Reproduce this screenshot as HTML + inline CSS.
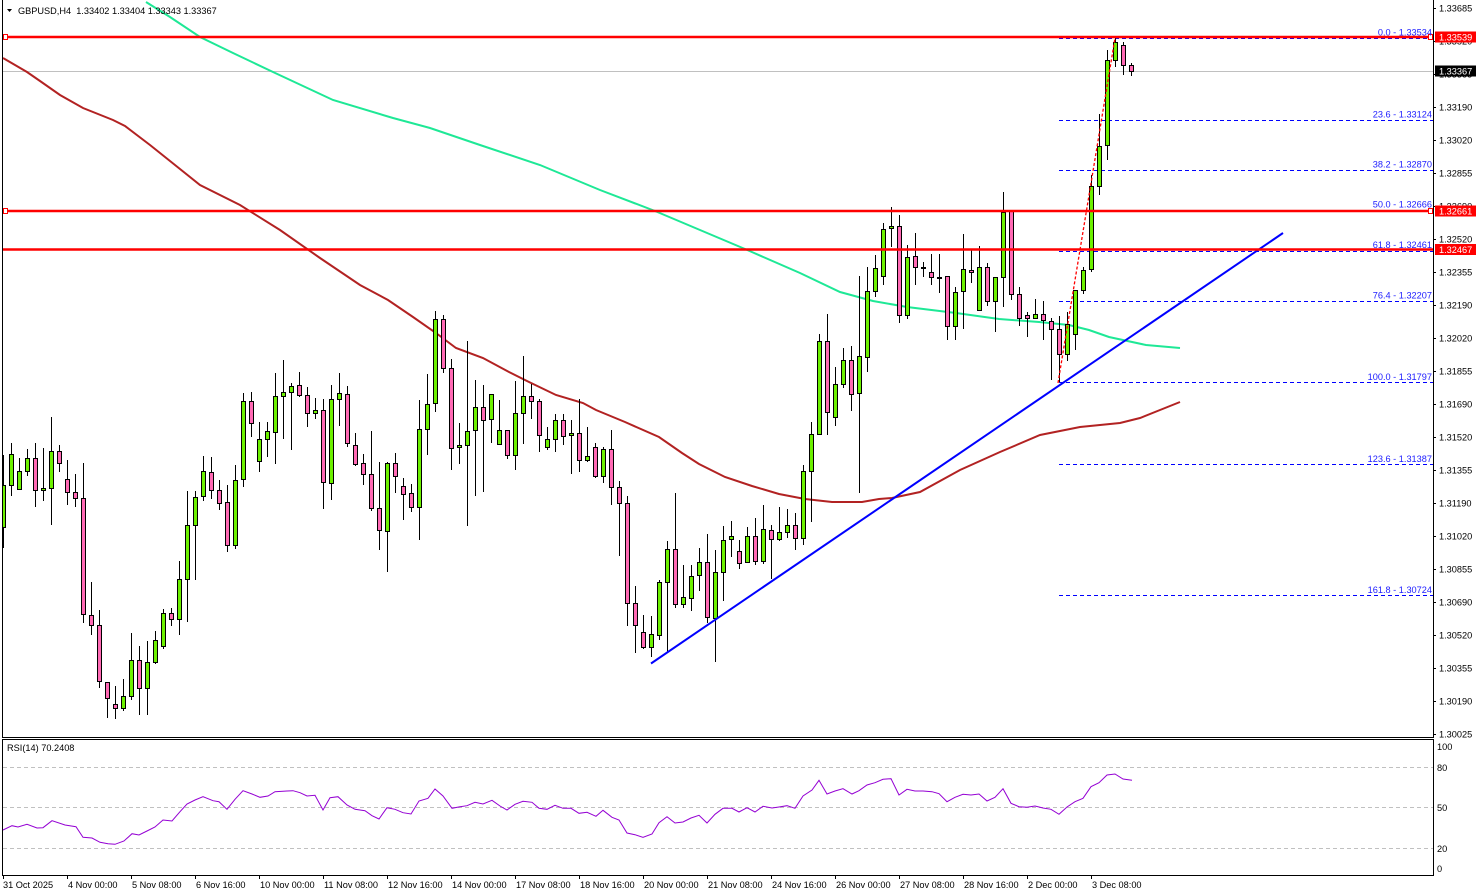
<!DOCTYPE html>
<html><head><meta charset="utf-8"><style>
html,body{margin:0;padding:0;background:#fff;}
svg{display:block;}
text{font-family:"Liberation Sans",Arial,sans-serif;font-size:9.2px;fill:#000;}
</style></head><body>
<svg width="1479" height="896" viewBox="0 0 1479 896" xmlns="http://www.w3.org/2000/svg">
<defs><clipPath id="mc"><rect x="2.5" y="0" width="1430.5" height="736.5"/></clipPath></defs>
<rect x="0" y="0" width="1479" height="896" fill="#fff"/>
<g clip-path="url(#mc)">
<!-- fib dashed lines -->
<g stroke="#0000ff" stroke-width="1" stroke-dasharray="4,3" fill="none">
<path d="M1059 38.5H1433M1059 120.5H1433M1059 170.5H1433M1059 210.5H1433M1059 251.5H1433M1059 301.5H1433M1059 382.5H1433M1059 464.5H1433M1059 595.5H1433"/>
</g>
<!-- current price line -->
<path d="M2 71.5H1433" stroke="#c0c0c0" stroke-width="1"/>
<!-- moving averages -->
<polyline fill="none" stroke="#b22222" stroke-width="2" points="3,58 27,72 40,81 60,95 83,108 113,120 125,126 150,145 175,165 200,185 240,205 280,230 320,258 360,285 388,300 413,317 436,333 456,348 483,358 509,372 529,382 556,395 583,403 596,410 625,422 659,437 682,453 699,464 725,477 752,486 779,494 805,499 832,502 862,502 879,499 892,498 920,492 960,470 1000,452 1040,435 1080,427 1100,425 1120,423 1140,418 1160,410 1180,402"/>
<polyline fill="none" stroke="#1ee896" stroke-width="2" points="146,2 170,17 200,37 233,53 273,72 333,100 393,118 430,128 480,145 540,165 600,190 655,211 700,230 745,249 800,273 840,292 873,301 907,307 956,313 999,319 1039,322 1069,325 1089,330 1109,337 1146,345 1180,348"/>
<!-- wicks -->
<path fill="none" stroke="#000" stroke-width="1" d="M3.5 455V548M11.5 443V496M19.5 458V489M27.5 449V476M35.5 443V507M43.5 448V501M51.5 417V525M59.5 445V472M67.5 460V505M75.5 474V507M83.5 463V623M91.5 582V635M99.5 610V688M107.5 682V718M115.5 686V719M123.5 679V711M131.5 633V700M139.5 646V715M147.5 641V715M155.5 631V664M163.5 609V649M171.5 608V626M179.5 561V635M187.5 491V622M195.5 491V580M203.5 456V501M211.5 457V499M219.5 480V510M227.5 485V552M235.5 465V549M243.5 393V487M251.5 392V437M259.5 422V472M267.5 422V457M275.5 373V464M283.5 360V439M291.5 383V450M299.5 372V397M307.5 387V427M315.5 398V419M323.5 399V509M331.5 385V500M339.5 373V426M347.5 386V447M355.5 433V466M363.5 454V485M371.5 431V511M379.5 462V550M387.5 462V572M395.5 453V493M403.5 478V520M411.5 484V512M419.5 400V540M427.5 374V455M435.5 311V412M443.5 315V373M451.5 359V470M459.5 423V464M467.5 341V526M475.5 380V496M483.5 385V492M491.5 394V443M499.5 400V444M507.5 430V459M515.5 381V470M523.5 356V444M531.5 384V419M539.5 399V452M547.5 427V450M555.5 414V452M563.5 414V445M571.5 420V474M579.5 399V472M587.5 427V462M595.5 443V478M603.5 447V483M611.5 430V505M619.5 481V556M627.5 496V626M635.5 586V653M643.5 615V649M651.5 616V657M659.5 580V640M667.5 541V652M675.5 493V608M683.5 565V608M691.5 565V611M699.5 548V591M707.5 534V623M715.5 550V662M723.5 526V601M731.5 521V557M739.5 540V569M747.5 527V563M755.5 518V565M763.5 505V564M771.5 525V579M779.5 507V541M787.5 509V538M795.5 513V550M803.5 465V545M811.5 422V522M819.5 334V435M827.5 314V435M835.5 367V426M843.5 348V388M851.5 346V411M859.5 276V493M867.5 267V372M875.5 255V297M883.5 223V285M891.5 207V247M899.5 215V323M907.5 245V319M915.5 233V285M923.5 262V277M931.5 254V285M939.5 254V293M947.5 276V340M955.5 287V340M963.5 234V329M971.5 250V283M979.5 246V310M987.5 263V306M995.5 277V332M1003.5 192V307M1011.5 211V300M1019.5 287V326M1027.5 312V337M1035.5 299V318M1043.5 301V340M1051.5 318V380M1059.5 316V382M1067.5 312V361M1075.5 290V350M1083.5 267V294M1091.5 175V272M1099.5 114V195M1107.5 50V160M1115.5 36V67M1123.5 42V75M1131.5 63V76"/>
<!-- green bodies -->
<path fill="#6cf000" stroke="#000" stroke-width="1" d="M1.5 485.5h4V527.5h-4zM9.5 454.5h4V485.5h-4zM17.5 471.5h4V489.5h-4zM25.5 458.5h4V471.5h-4zM41.5 488.5h4V490.5h-4zM49.5 451.5h4V488.5h-4zM121.5 696.5h4V708.5h-4zM129.5 660.5h4V696.5h-4zM145.5 662.5h4V688.5h-4zM153.5 640.5h4V662.5h-4zM161.5 613.5h4V646.5h-4zM177.5 579.5h4V619.5h-4zM185.5 525.5h4V579.5h-4zM193.5 497.5h4V525.5h-4zM201.5 471.5h4V496.5h-4zM233.5 480.5h4V545.5h-4zM241.5 401.5h4V479.5h-4zM257.5 439.5h4V461.5h-4zM265.5 431.5h4V439.5h-4zM273.5 396.5h4V432.5h-4zM281.5 392.5h4V396.5h-4zM289.5 386.5h4V392.5h-4zM313.5 410.5h4V413.5h-4zM329.5 399.5h4V483.5h-4zM337.5 393.5h4V399.5h-4zM385.5 463.5h4V531.5h-4zM417.5 429.5h4V507.5h-4zM425.5 404.5h4V429.5h-4zM433.5 319.5h4V403.5h-4zM457.5 445.5h4V447.5h-4zM465.5 431.5h4V445.5h-4zM473.5 407.5h4V430.5h-4zM489.5 394.5h4V419.5h-4zM497.5 430.5h4V444.5h-4zM513.5 413.5h4V455.5h-4zM521.5 396.5h4V413.5h-4zM545.5 439.5h4V447.5h-4zM553.5 420.5h4V439.5h-4zM569.5 433.5h4V435.5h-4zM585.5 456.5h4V460.5h-4zM601.5 449.5h4V476.5h-4zM649.5 634.5h4V647.5h-4zM657.5 582.5h4V635.5h-4zM665.5 549.5h4V582.5h-4zM681.5 597.5h4V604.5h-4zM689.5 576.5h4V598.5h-4zM697.5 562.5h4V575.5h-4zM713.5 572.5h4V618.5h-4zM721.5 540.5h4V572.5h-4zM729.5 536.5h4V539.5h-4zM745.5 536.5h4V562.5h-4zM761.5 529.5h4V561.5h-4zM777.5 532.5h4V539.5h-4zM785.5 525.5h4V532.5h-4zM801.5 471.5h4V538.5h-4zM809.5 434.5h4V471.5h-4zM817.5 341.5h4V434.5h-4zM833.5 384.5h4V417.5h-4zM841.5 360.5h4V384.5h-4zM857.5 356.5h4V393.5h-4zM865.5 291.5h4V357.5h-4zM873.5 268.5h4V291.5h-4zM881.5 229.5h4V276.5h-4zM889.5 226.5h4V228.5h-4zM905.5 257.5h4V315.5h-4zM921.5 267.5h4V268.5h-4zM937.5 277.5h4V278.5h-4zM953.5 292.5h4V326.5h-4zM961.5 269.5h4V291.5h-4zM977.5 267.5h4V310.5h-4zM993.5 277.5h4V301.5h-4zM1001.5 212.5h4V277.5h-4zM1033.5 314.5h4V318.5h-4zM1065.5 324.5h4V354.5h-4zM1073.5 290.5h4V334.5h-4zM1081.5 270.5h4V290.5h-4zM1089.5 186.5h4V269.5h-4zM1097.5 146.5h4V186.5h-4zM1105.5 60.5h4V145.5h-4zM1113.5 42.5h4V60.5h-4z"/>
<!-- pink bodies -->
<path fill="#ff69b4" stroke="#000" stroke-width="1" d="M33.5 458.5h4V490.5h-4zM57.5 451.5h4V463.5h-4zM65.5 479.5h4V492.5h-4zM73.5 492.5h4V498.5h-4zM81.5 498.5h4V614.5h-4zM89.5 615.5h4V625.5h-4zM97.5 625.5h4V681.5h-4zM105.5 682.5h4V698.5h-4zM113.5 704.5h4V708.5h-4zM137.5 660.5h4V688.5h-4zM169.5 613.5h4V619.5h-4zM209.5 472.5h4V490.5h-4zM217.5 490.5h4V503.5h-4zM225.5 502.5h4V545.5h-4zM249.5 401.5h4V423.5h-4zM297.5 385.5h4V395.5h-4zM305.5 395.5h4V413.5h-4zM321.5 410.5h4V482.5h-4zM345.5 394.5h4V443.5h-4zM353.5 445.5h4V464.5h-4zM361.5 463.5h4V474.5h-4zM369.5 474.5h4V508.5h-4zM377.5 508.5h4V530.5h-4zM393.5 463.5h4V476.5h-4zM401.5 486.5h4V494.5h-4zM409.5 493.5h4V507.5h-4zM441.5 319.5h4V368.5h-4zM449.5 368.5h4V448.5h-4zM481.5 407.5h4V420.5h-4zM505.5 430.5h4V455.5h-4zM529.5 396.5h4V401.5h-4zM537.5 401.5h4V435.5h-4zM561.5 420.5h4V436.5h-4zM577.5 433.5h4V460.5h-4zM593.5 447.5h4V476.5h-4zM609.5 449.5h4V487.5h-4zM617.5 487.5h4V503.5h-4zM625.5 503.5h4V603.5h-4zM633.5 603.5h4V625.5h-4zM641.5 632.5h4V647.5h-4zM673.5 549.5h4V604.5h-4zM705.5 562.5h4V617.5h-4zM737.5 551.5h4V563.5h-4zM753.5 536.5h4V561.5h-4zM769.5 530.5h4V539.5h-4zM793.5 525.5h4V538.5h-4zM825.5 341.5h4V412.5h-4zM849.5 360.5h4V394.5h-4zM897.5 226.5h4V315.5h-4zM913.5 256.5h4V267.5h-4zM929.5 272.5h4V277.5h-4zM945.5 276.5h4V326.5h-4zM969.5 270.5h4V272.5h-4zM985.5 267.5h4V301.5h-4zM1009.5 211.5h4V294.5h-4zM1017.5 294.5h4V318.5h-4zM1025.5 315.5h4V318.5h-4zM1041.5 314.5h4V320.5h-4zM1049.5 321.5h4V329.5h-4zM1057.5 329.5h4V354.5h-4zM1121.5 45.5h4V65.5h-4zM1129.5 65.5h4V71.5h-4z"/>
<!-- fib trendline -->
<path d="M1058 383L1115 38" stroke="#ff0000" stroke-width="1.3" stroke-dasharray="3,2" fill="none"/>
<!-- blue trendline -->
<path d="M651 663.5L1283 233" stroke="#0000ff" stroke-width="2" fill="none"/>
<!-- red horizontal lines -->
<g stroke="#ff0000" stroke-width="2.5" fill="none">
<path d="M2 37H1433M2 211H1433M2 249.5H1433"/>
</g>
<g fill="#fff" stroke="#ff0000" stroke-width="1">
<rect x="3.5" y="34.5" width="4" height="5"/>
<rect x="3.5" y="208.5" width="4" height="5"/>
<rect x="1428.5" y="34.5" width="4" height="5"/>
<rect x="1428.5" y="208.5" width="4" height="5"/>
</g>
<!-- fib labels -->
<g fill="#2020ff" text-anchor="end">
<text x="1432" y="35.5" style="fill:#2020ff">0.0 - 1.33534</text>
<text x="1432" y="117.5" style="fill:#2020ff">23.6 - 1.33124</text>
<text x="1432" y="167.5" style="fill:#2020ff">38.2 - 1.32870</text>
<text x="1432" y="207.5" style="fill:#2020ff">50.0 - 1.32666</text>
<text x="1432" y="248" style="fill:#2020ff">61.8 - 1.32461</text>
<text x="1432" y="298.5" style="fill:#2020ff">76.4 - 1.32207</text>
<text x="1432" y="380" style="fill:#2020ff">100.0 - 1.31797</text>
<text x="1432" y="462" style="fill:#2020ff">123.6 - 1.31387</text>
<text x="1432" y="593" style="fill:#2020ff">161.8 - 1.30724</text>
</g>
</g>
<!-- title -->
<polygon points="7,9 12,9 9.5,12" fill="#000"/>
<text x="18" y="14">GBPUSD,H4&#160;&#160;1.33402 1.33404 1.33343 1.33367</text>
<!-- frames -->
<g stroke="#000" stroke-width="1" fill="none">
<path d="M2.5 0V737.5H1433.5V0"/>
<path d="M2.5 739.5H1433.5V875.5H2.5Z"/>
</g>
<!-- price axis ticks -->
<path stroke="#000" stroke-width="1" d="M1433 8.5h3M1433 41.5h3M1433 74.5h3M1433 107.5h3M1433 140.5h3M1433 173.5h3M1433 206.5h3M1433 239.5h3M1433 272.5h3M1433 305.5h3M1433 338.5h3M1433 371.5h3M1433 404.5h3M1433 437.5h3M1433 470.5h3M1433 503.5h3M1433 536.5h3M1433 569.5h3M1433 602.5h3M1433 635.5h3M1433 668.5h3M1433 701.5h3M1433 734.5h3"/>
<g>
<text x="1439" y="11.5">1.33685</text>
<text x="1439" y="44.5">1.33520</text>
<text x="1439" y="77.5">1.33355</text>
<text x="1439" y="110.5">1.33190</text>
<text x="1439" y="143.5">1.33020</text>
<text x="1439" y="176.5">1.32855</text>
<text x="1439" y="209.5">1.32690</text>
<text x="1439" y="242.5">1.32520</text>
<text x="1439" y="275.5">1.32355</text>
<text x="1439" y="308.5">1.32190</text>
<text x="1439" y="341.5">1.32020</text>
<text x="1439" y="374.5">1.31855</text>
<text x="1439" y="407.5">1.31690</text>
<text x="1439" y="440.5">1.31520</text>
<text x="1439" y="473.5">1.31355</text>
<text x="1439" y="506.5">1.31190</text>
<text x="1439" y="539.5">1.31020</text>
<text x="1439" y="572.5">1.30855</text>
<text x="1439" y="605.5">1.30690</text>
<text x="1439" y="638.5">1.30520</text>
<text x="1439" y="671.5">1.30355</text>
<text x="1439" y="704.5">1.30190</text>
<text x="1439" y="737.5">1.30025</text>
</g>
<!-- price label boxes -->
<rect x="1435" y="31.5" width="41" height="11" fill="#ff0000"/>
<text x="1439" y="40.5" style="fill:#fff">1.33539</text>
<rect x="1435" y="65.5" width="41" height="11" fill="#000"/>
<text x="1439" y="74.5" style="fill:#fff">1.33367</text>
<rect x="1435" y="205.5" width="41" height="11" fill="#ff0000"/>
<text x="1439" y="214.5" style="fill:#fff">1.32661</text>
<rect x="1435" y="244" width="41" height="11" fill="#ff0000"/>
<text x="1439" y="253" style="fill:#fff">1.32467</text>
<!-- RSI panel -->
<g stroke="#c0c0c0" stroke-width="1" stroke-dasharray="4,3">
<path d="M3 767.5H1433M3 807.5H1433M3 848.5H1433"/>
</g>
<polyline fill="none" stroke="#9400d3" stroke-width="1" points="3,830 12,825.7 18,827 27,824.3 37,828 43,827.7 52,820.7 65,825 76,826.7 83,837.3 92,838 100,842.3 108,843.7 115,844.3 124,841 132,833.7 139,835 147,831 155,827 163,820 172,821 180,811.7 187,804 195,800 203,796.7 213,800.7 219,801.7 227,809.3 235,799.3 243,790.7 252,794 260,797.3 268,796 275,791.7 287,791 293,790.7 300,792.7 307,796 315,795.3 323,810 330,797.7 338,796.7 347,805 355,809.3 365,810.7 372,815.7 379,819 387,807.7 395,809.3 403,812.7 411,814 419,801 428,798.3 435,789 443,796 452,808.3 460,806.7 467,805.7 475,802.3 483,804 492,800.3 500,806 507,810 515,804.3 523,801.3 532,802.3 539,808.3 547,809.3 555,805.3 563,808.3 571,808.3 579,813.3 587,812.3 596,816.3 603,810.3 612,817.3 619,820 627,833 635,834.7 643,837.3 652,834 659,822.7 667,816.7 675,823 683,822 691,818 699,815.3 707,823 715,814.3 723,808.3 732,808.3 739,812 747,807.7 755,812 763,806.3 772,808 779,807 787,805.7 795,808.3 803,796 812,790 819,780.3 827,794 835,791 843,788.7 852,794 859,790.7 867,785 875,782.7 883,779.3 891,778.7 899,795 907,789.3 915,791 923,791 932,791.7 939,793.7 947,801.7 955,797.3 963,794.3 971,795 979,794 987,801 995,797.3 1003,788.7 1011,803.3 1019,806.7 1027,807.3 1035,806 1043,808 1051,809.3 1059,814.3 1067,807 1075,801.7 1083,798.3 1091,786.7 1099,782.7 1107,775 1115,774 1123,779 1132,780.3"/>
<text x="7" y="751">RSI(14) 70.2408</text>
<text x="1437" y="750">100</text>
<text x="1437" y="771">80</text>
<text x="1437" y="811">50</text>
<text x="1437" y="852">20</text>
<text x="1437" y="872">0</text>
<!-- time axis -->
<path stroke="#000" stroke-width="1" d="M3.5 875v4M67.5 875v4M131.5 875v4M195.5 875v4M259.5 875v4M323.5 875v4M387.5 875v4M451.5 875v4M515.5 875v4M579.5 875v4M643.5 875v4M707.5 875v4M771.5 875v4M835.5 875v4M899.5 875v4M963.5 875v4M1027.5 875v4M1091.5 875v4"/>
<g>
<text x="3" y="888">31 Oct 2025</text>
<text x="68" y="888">4 Nov 00:00</text>
<text x="132" y="888">5 Nov 08:00</text>
<text x="196" y="888">6 Nov 16:00</text>
<text x="260" y="888">10 Nov 00:00</text>
<text x="324" y="888">11 Nov 08:00</text>
<text x="388" y="888">12 Nov 16:00</text>
<text x="452" y="888">14 Nov 00:00</text>
<text x="516" y="888">17 Nov 08:00</text>
<text x="580" y="888">18 Nov 16:00</text>
<text x="644" y="888">20 Nov 00:00</text>
<text x="708" y="888">21 Nov 08:00</text>
<text x="772" y="888">24 Nov 16:00</text>
<text x="836" y="888">26 Nov 00:00</text>
<text x="900" y="888">27 Nov 08:00</text>
<text x="964" y="888">28 Nov 16:00</text>
<text x="1028" y="888">2 Dec 00:00</text>
<text x="1092" y="888">3 Dec 08:00</text>
</g>
</svg>
</body></html>
